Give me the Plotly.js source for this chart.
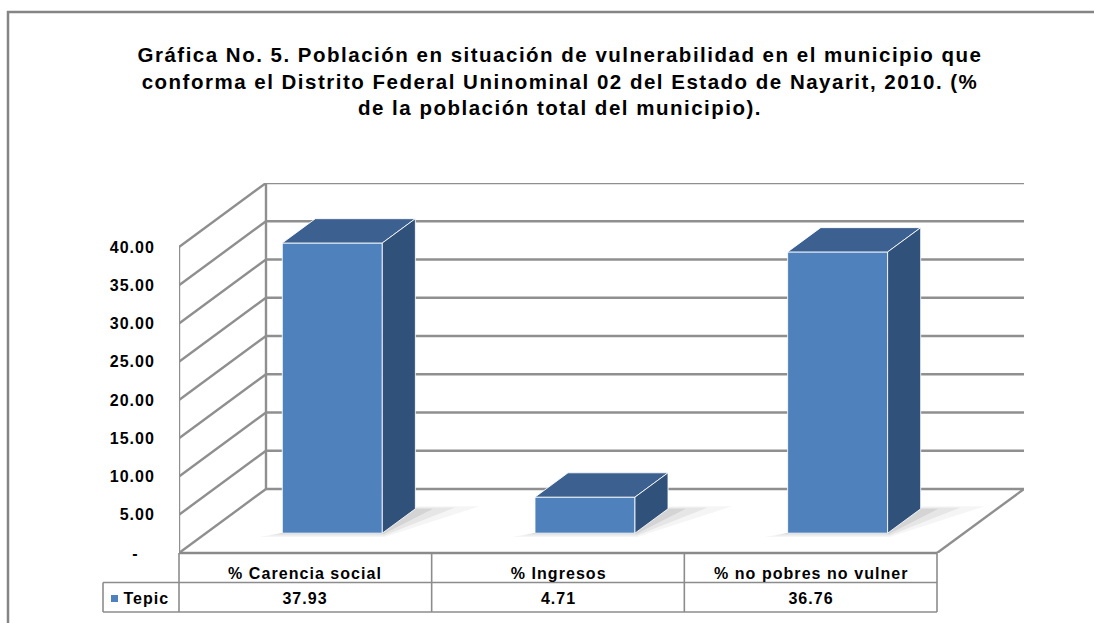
<!DOCTYPE html>
<html><head><meta charset="utf-8">
<script src="https://cdn.plot.ly/plotly-3.0.1.min.js"></script>
<style>
html,body{margin:0;padding:0;background:#fff}
#chart text{letter-spacing:1.05px}
#chart text.gtitle{letter-spacing:1.5px}
</style>
</head><body><div id="chart" style="width:1094px;height:623px"></div>
<script>
// ---------- data ----------
const categories = ['% Carencia social', '% Ingresos', '% no pobres no vulner'];
const seriesName = 'Tepic';
const values = [37.93, 4.71, 36.76];
const tickValues = [0, 5, 10, 15, 20, 25, 30, 35, 40];
const tickLabels = ['-\u00a0\u00a0\u00a0', '5.00', '10.00', '15.00', '20.00', '25.00', '30.00', '35.00', '40.00'];
const titleText = 'Gráfica No. 5. Población en situación de vulnerabilidad en el municipio que<br>conforma el Distrito Federal Uninominal 02 del Estado de Nayarit, 2010. (%<br>de la población total del municipio).';

// ---------- geometry ----------
const W = 1094, H = 623;
const L = 179, R = 70, T = 183, B = 70;
const plotW = W - L - R, plotH = H - T - B;
const N = categories.length;
const DXpx = 87, DYpx = 64;
const catPx = (plotW - DXpx) / N;
const vMax = tickValues[tickValues.length - 1];
const pxPerUnit = (plotH - DYpx) / vMax;
const DX = DXpx / catPx, DY = DYpx / pxPerUnit;
const XMAX = N + DX, YMAX = vMax + DY;
const P = (c, v, d) => [c + d * DX, v + d * DY];
const px2paperX = p => (p - L) / plotW;
const px2paperY = p => (H - B - p) / plotH;

const gridColor = '#8f8f8f';
const traces = [];
function seg(list, color, width) {
  const x = [], y = [];
  list.forEach(([a, b]) => { x.push(a[0], b[0], null); y.push(a[1], b[1], null); });
  traces.push({type: 'scatter', mode: 'lines', x, y, line: {color, width}, hoverinfo: 'skip', showlegend: false});
}
// back wall gridlines
seg(tickValues.map(v => [P(0, v, 1), P(N, v, 1)]), gridColor, 2.4);
// left wall diagonals
seg(tickValues.map(v => [P(0, v, 0), P(0, v, 1)]), gridColor, 2.4);
// wall verticals and floor right edge
seg([[P(0, 0, 0), P(0, vMax, 0)], [P(0, 0, 1), P(0, vMax, 1)], [P(N, 0, 0), P(N, 0, 1)]], gridColor, 2.4);

// bars
const hw = 50 / catPx, d0 = 0.31, d1 = 0.69;
function poly(pts, fill, lineColor, lw) {
  traces.push({type: 'scatter', mode: 'lines', x: pts.map(p => p[0]).concat([pts[0][0]]), y: pts.map(p => p[1]).concat([pts[0][1]]),
    fill: 'toself', fillcolor: fill,
    line: {color: lineColor || 'rgba(0,0,0,0)', width: lw || 0}, hoverinfo: 'skip', showlegend: false});
}
values.forEach((v, i) => {
  const c = i + 0.5;
  // soft shadow on the floor
  poly([P(c - hw - 0.07, 0, d0 - 0.06), P(c + hw + 0.03, 0, d0 - 0.06), P(c + hw + 0.24, 0, d1 + 0.04), P(c + hw, 0, d1 + 0.04)], 'rgba(0,0,0,0.04)');
  poly([P(c - hw - 0.04, 0, d0 - 0.035), P(c + hw + 0.02, 0, d0 - 0.035), P(c + hw + 0.15, 0, d1 + 0.02), P(c + hw, 0, d1 + 0.02)], 'rgba(0,0,0,0.06)');
  poly([P(c - hw - 0.015, 0, d0 - 0.015), P(c + hw + 0.01, 0, d0 - 0.015), P(c + hw + 0.07, 0, d1), P(c + hw, 0, d1)], 'rgba(0,0,0,0.08)');
  const edge = 'rgba(255,255,255,0.85)';
  poly([P(c - hw, 0, d0), P(c + hw, 0, d0), P(c + hw, v, d0), P(c - hw, v, d0)], '#4F81BD', edge, 1);
  poly([P(c - hw, v, d0), P(c + hw, v, d0), P(c + hw, v, d1), P(c - hw, v, d1)], '#3C6090', edge, 1);
  poly([P(c + hw, 0, d0), P(c + hw, 0, d1), P(c + hw, v, d1), P(c + hw, v, d0)], '#30517A', edge, 1);
});

// ---------- table ----------
const tblColor = '#8c8c8c';
const rowH = 29.5;
const yTop = 0, yMid = px2paperY(H - B + rowH), yBot = px2paperY(H - B + 2 * rowH);
const colX = c => c / XMAX;
const firstColLeft = px2paperX(103);
const shapes = [];
const line = (x0, y0, x1, y1, color, width) => shapes.push({type: 'line', xref: 'paper', yref: 'paper', x0, y0, x1, y1, line: {color, width}});
line(colX(0), yTop, colX(N), yTop, '#8a8a8a', 2.5);
line(firstColLeft, yMid, colX(N), yMid, tblColor, 1.6);
line(firstColLeft, yBot, colX(N), yBot, tblColor, 1.6);
line(firstColLeft, yMid, firstColLeft, yBot, tblColor, 1.6);
for (let k = 0; k <= N; k++) line(colX(k), yTop, colX(k), yBot, tblColor, 1.6);
// legend key
shapes.push({type: 'rect', xref: 'paper', yref: 'paper', x0: px2paperX(111), x1: px2paperX(118), y0: px2paperY(602), y1: px2paperY(595), fillcolor: '#4F81BD', line: {width: 0}});
// outer border
shapes.push({type: 'rect', xref: 'paper', yref: 'paper', x0: px2paperX(8), x1: px2paperX(W + 10), y0: px2paperY(12), y1: px2paperY(H + 10), line: {color: '#858585', width: 2.5}, fillcolor: 'rgba(0,0,0,0)'});

const font = {family: 'Liberation Sans, Arial, sans-serif', color: '#000'};
const tf = Object.assign({size: 16}, font);
const annotations = [];
const headerY = px2paperY(573), rowY = px2paperY(598.5);
categories.forEach((cat, i) => {
  annotations.push({xref: 'paper', yref: 'paper', x: colX(i + 0.5), y: headerY, text: '<b>' + cat + '</b>', showarrow: false, font: tf, xanchor: 'center', yanchor: 'middle'});
  annotations.push({xref: 'paper', yref: 'paper', x: colX(i + 0.5), y: rowY, text: '<b>' + values[i].toFixed(2) + '</b>', showarrow: false, font: tf, xanchor: 'center', yanchor: 'middle'});
});
annotations.push({xref: 'paper', yref: 'paper', x: px2paperX(124), y: rowY, text: '<b>' + seriesName + '</b>', showarrow: false, font: tf, xanchor: 'left', yanchor: 'middle'});

const layout = {
  width: W, height: H,
  margin: {l: L, r: R, t: T, b: B, pad: 0},
  paper_bgcolor: '#fff', plot_bgcolor: 'rgba(0,0,0,0)',
  showlegend: false,
  title: {text: '<b>' + titleText + '</b>', font: Object.assign({size: 20.5}, font), x: 560 / W, xanchor: 'center', xref: 'container', y: 1 - 62 / H, yanchor: 'middle', yref: 'container'},
  xaxis: {range: [0, XMAX], visible: false, fixedrange: true},
  yaxis: {range: [0, YMAX], showgrid: false, zeroline: false, showline: false, tickvals: tickValues, ticktext: tickLabels,
    ticks: '', ticklabelstandoff: 23, tickfont: Object.assign({size: 16, weight: 'bold'}, font), fixedrange: true},
  shapes, annotations
};
Plotly.newPlot('chart', traces, layout, {displayModeBar: false, staticPlot: true});
</script></body></html>
